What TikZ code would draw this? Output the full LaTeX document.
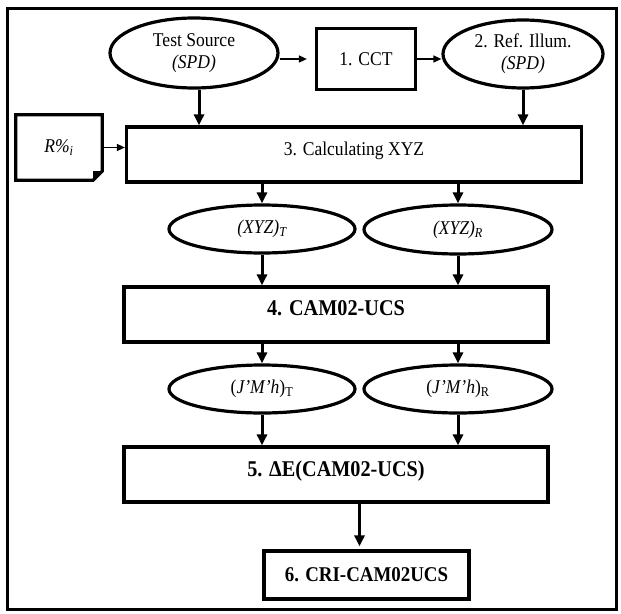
\documentclass[tikz,border=0pt]{standalone}
\usepackage{fontspec}
\setmainfont{Liberation Serif}[FakeStretch=0.9]
\usetikzlibrary{shapes.geometric,arrows.meta}

\begin{document}
\begin{tikzpicture}[x=1pt, y=-1pt, %pixel grid, y down
    font=\fontsize{19.5}{22}\selectfont,
    oval/.style={draw, ellipse, line width=3.2pt, inner sep=0pt, align=center},
    stepbox/.style={draw, rectangle, line width=3.2pt, inner sep=0pt},
    widebox/.style={stepbox, minimum width=424pt, minimum height=55pt, text depth=12pt, font=\fontsize{22.5}{26}\selectfont\bfseries},
    downarrow/.style={line width=3pt, -{Triangle[length=11pt,width=10pt]}},
    sidearrow/.style={line width=1.4pt, -{Triangle[length=8pt,width=7pt]}}]

            \useasboundingbox (0,0) rectangle (621,613);
            \draw[line width=3pt] (7,8) rectangle (616,609);

            % top row
            \node[oval, minimum width=168pt, minimum height=70pt] (src) at (194,53) {Test Source\\\textit{(SPD)}};
            \node[stepbox, minimum width=99pt, minimum height=61pt] (cct) at (366,59) {1. CCT};
            \node[oval, minimum width=160pt, minimum height=68pt] (ref) at (523,54) {2. Ref. Illum.\\\textit{(SPD)}};

            \node[stepbox, minimum width=455pt, minimum height=55pt, text depth=12pt] (calc) at (354,154.5) {3. Calculating XYZ};
            \node[minimum width=86pt, minimum height=65pt, inner sep=0pt] (rpct) at (59,147.5) {\textit{R\%\textsubscript{i}}\hspace{12pt}};
            \draw[line width=3.2pt] (rpct.north west) -- (rpct.north east) -- ([yshift=9pt]rpct.south east)
                -- ([xshift=-9pt]rpct.south east) -- (rpct.south west) -- cycle;
            \fill ([yshift=9pt]rpct.south east) -- ([xshift=-9pt]rpct.south east) -- ([xshift=-9pt,yshift=9pt]rpct.south east) -- cycle;

            % colour values
            \node[oval, minimum width=186pt, minimum height=48pt] (xyzt) at (262,229) {\textit{(XYZ)\textsubscript{T}}};
            \node[oval, minimum width=188pt, minimum height=49pt] (xyzr) at (458,229.5) {\textit{(XYZ)\textsubscript{R}}};
            \node[widebox] (cam) at (336,314.5) {4. CAM02-UCS};
            \node[oval, minimum width=186pt, minimum height=48pt] (jmht) at (262,389) {(\textit{J'M'h})\textsubscript{T}};
            \node[oval, minimum width=188pt, minimum height=48pt] (jmhr) at (458,389) {(\textit{J'M'h})\textsubscript{R}};
            \node[widebox] (de) at (336,474.5) {5. ΔE(CAM02-UCS)};
            \node[stepbox, minimum width=205pt, minimum height=48pt, font=\fontsize{21}{24}\selectfont\bfseries] (cri) at (366.5,575) {6. CRI-CAM02UCS};

            % arrows
            \draw[sidearrow, shorten >=8pt] (src.east |- cct.west) -- (cct.west);
            \draw[sidearrow] (cct.east) -- (cct.east -| ref.west);
            \draw[sidearrow] (rpct.east) -- (rpct.east -| calc.west);
            \draw[downarrow] ([xshift=5pt]src.south) -- ([xshift=5pt]src.south |- calc.north);
            \draw[downarrow] (ref.south) -- (ref.south |- calc.north);

            \draw[downarrow] (xyzt.north |- calc.south) -- (xyzt.north);
            \draw[downarrow] (xyzr.north |- calc.south) -- (xyzr.north);
            \draw[downarrow] (xyzt.south) -- (xyzt.south |- cam.north);
            \draw[downarrow] (xyzr.south) -- (xyzr.south |- cam.north);
            \draw[downarrow] (jmht.north |- cam.south) -- (jmht.north);
            \draw[downarrow] (jmhr.north |- cam.south) -- (jmhr.north);
            \draw[downarrow] (jmht.south) -- (jmht.south |- de.north);
            \draw[downarrow] (jmhr.south) -- (jmhr.south |- de.north);
            \draw[downarrow, shorten >=3pt] ([xshift=-7pt]cri.north |- de.south) -- ([xshift=-7pt]cri.north);
\end{tikzpicture}
\end{document}
